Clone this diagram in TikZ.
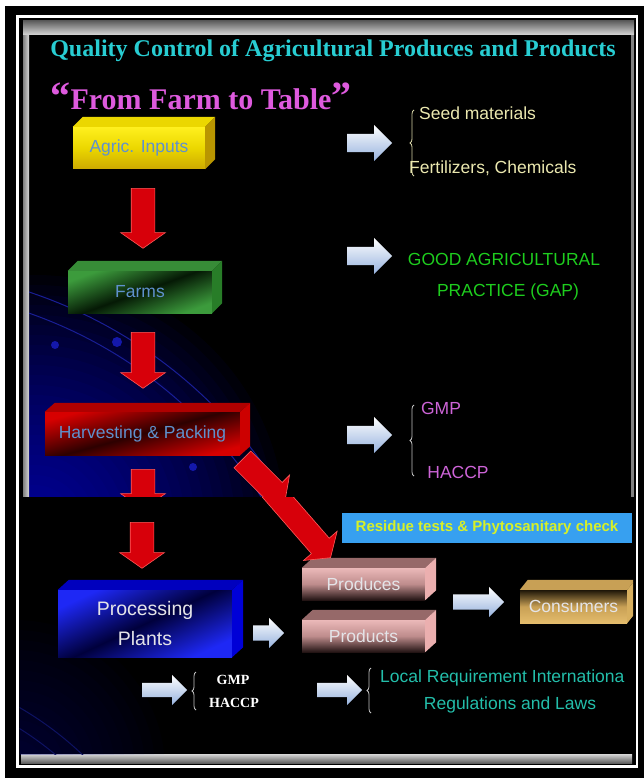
\documentclass[tikz,border=0pt]{standalone}
\usepackage{fontspec}
\setmainfont{Liberation Sans}
\newfontfamily\slideserif{Liberation Serif}
\usetikzlibrary{shapes.arrows,decorations.pathreplacing,calc}

\definecolor{titlecyan}{RGB}{40,205,210}
\definecolor{slogancol}{RGB}{222,90,222}
\definecolor{steeltxt}{RGB}{95,145,205}
\definecolor{seedtxt}{RGB}{235,232,175}
\definecolor{gaptxt}{RGB}{30,205,30}
\definecolor{gmptxt}{RGB}{205,100,215}
\definecolor{localtxt}{RGB}{35,190,170}
\definecolor{resblue}{RGB}{55,160,240}
\definecolor{restxt}{RGB}{215,240,40}
\definecolor{arrowred}{RGB}{215,0,10}
\definecolor{arrowredline}{RGB}{255,90,90}
\definecolor{arrowpale}{RGB}{150,178,222}
\definecolor{lighttxt}{RGB}{228,228,232}
\definecolor{bracegray}{RGB}{195,195,195}
\definecolor{barhi}{RGB}{215,215,215}
\definecolor{barlo}{RGB}{95,95,95}
\definecolor{glowblue}{RGB}{20,20,230}
\definecolor{arcblue}{RGB}{25,30,150}
\definecolor{navydim}{RGB}{20,25,140}
% box colours
\definecolor{yelA}{RGB}{255,240,30}
\definecolor{yelB}{RGB}{205,170,0}
\definecolor{yelTop}{RGB}{235,215,0}
\definecolor{yelSide}{RGB}{185,150,0}
\definecolor{grnA}{RGB}{60,155,60}
\definecolor{grnM}{RGB}{5,25,5}
\definecolor{grnTop}{RGB}{55,140,55}
\definecolor{grnSide}{RGB}{40,125,40}
\definecolor{redA}{RGB}{215,0,0}
\definecolor{redM}{RGB}{45,0,0}
\definecolor{redTop}{RGB}{175,0,0}
\definecolor{redSide}{RGB}{205,0,0}
\definecolor{bluA}{RGB}{30,40,245}
\definecolor{bluM}{RGB}{0,0,60}
\definecolor{bluTop}{RGB}{0,0,190}
\definecolor{bluSide}{RGB}{0,0,215}
\definecolor{pnkA}{RGB}{235,185,185}
\definecolor{pnkM}{RGB}{190,140,140}
\definecolor{pnkB}{RGB}{35,20,20}
\definecolor{pnkTop}{RGB}{150,105,105}
\definecolor{pnkSide}{RGB}{235,175,175}
\definecolor{gldA}{RGB}{30,22,8}
\definecolor{gldB}{RGB}{228,188,108}
\definecolor{gldTop}{RGB}{200,160,85}
\definecolor{gldSide}{RGB}{215,175,95}

\newcommand{\boxfaces}[5]{%
  \path[fill=#4] (#1.north west) -- ++(#2,-#3) -- ($(#1.north east)+(#2,-#3)$) -- (#1.north east) -- cycle;
  \path[fill=#5] (#1.north east) -- ++(#2,-#3) -- ($(#1.south east)+(#2,-#3)$) -- (#1.south east) -- cycle;
}

\begin{document}
\begin{tikzpicture}[x=1pt,y=-1pt,
  box/.style={rectangle, inner sep=0pt, align=center, font=\fontsize{17.5}{20}\selectfont},
  palearrow/.style={single arrow, inner sep=0pt, single arrow head extend=#1, anchor=tail,
    top color=white, bottom color=arrowpale, draw=none},
  redarrow/.style={single arrow, inner sep=0pt, single arrow head extend=10.5pt,
    single arrow tip angle=110, anchor=tail, fill=arrowred, draw=arrowredline, line width=0.6pt},
  rtxt/.style={inner sep=0pt, font=\fontsize{17.5}{20}\selectfont},
  bracestyle/.style={decorate, decoration={brace, amplitude=4pt}, line width=0.8pt}
]
\useasboundingbox (0,0) rectangle (644,778);
% frame
\fill[white] (0,0) rectangle (644,778);
\fill[black] (5,6) rectangle (644,778);
\draw[white, line width=2.8pt] (17.5,16.5) rectangle (637,766.5);

% ---------- top slide ----------
\shade[left color=barlo!80!white, right color=barhi] (23,21) rectangle (29,497);
\fill[gray] (631,21) rectangle (634,497);
\shade[top color=barlo, bottom color=barhi] (23,21) rectangle (634,35);

\begin{scope}
  \clip (29,35) rectangle (631,497);
  \foreach \rr in {250,240,...,10} { \fill[glowblue, opacity=0.045] (35,525) circle (\rr); }
  \draw[arcblue, line width=1pt] (-120,740) circle (452);
  \draw[arcblue, line width=1pt] (-120,740) circle (472);
  \fill[arcblue!80!blue] (55,345) circle (4);
  \fill[arcblue!80!blue] (117,342) circle (5);
  \fill[arcblue!80!blue] (193,467) circle (4);
\end{scope}

\node[font=\slideserif\bfseries\fontsize{24}{28}\selectfont, text=titlecyan, anchor=base] (title) at (333,57)
  {Quality Control of Agricultural Produces and Products};
\node[font=\slideserif\bfseries\fontsize{30}{34}\selectfont, text=slogancol, anchor=base] (slogan) at (201,110)
  {{\fontsize{40}{40}\selectfont “}From Farm to Table{\fontsize{40}{40}\selectfont ”}};

% boxes
\node[box, minimum width=132, minimum height=42, text=steeltxt,
      top color=yelA, bottom color=yelB, middle color=yelTop] (agric) at (139,148) {Agric. Inputs};
\boxfaces{agric}{10}{10}{yelTop}{yelSide}

\node[box, minimum width=144, minimum height=42, text=steeltxt,
      top color=grnA, bottom color=grnA, middle color=grnM, shading angle=20] (farms) at (140,292) {Farms};
\boxfaces{farms}{10}{10}{grnTop}{grnSide}

\node[box, minimum width=195, minimum height=43, text=steeltxt,
      top color=redA, bottom color=redA, middle color=redM, shading angle=15] (harvest) at (142.5,433.5) {Harvesting \& Packing};
\boxfaces{harvest}{10}{9}{redTop}{redSide}

% red arrows (top slide)
\node[redarrow, rotate=-90, minimum height=60] (r1) at (143,188) {\rule{0pt}{23pt}};
\node[redarrow, rotate=-90, minimum height=56] (r2) at (143,332) {\rule{0pt}{23pt}};
\begin{scope}
  \clip (29,35) rectangle (631,497);
  \node[redarrow, rotate=-90, minimum height=40] (r3) at (143,469) {\rule{0pt}{23pt}};
  \node[redarrow, rotate=-45, minimum height=60] (rd1) at ($(harvest.south east)+(2,4)$) {\rule{0pt}{23pt}};
\end{scope}

% pale arrows (top slide)
\node[palearrow=9pt, minimum height=45] (la1) at (347,143) {\rule{0pt}{18pt}};
\node[palearrow=9pt, minimum height=45] (la2) at (347,256) {\rule{0pt}{18pt}};
\node[palearrow=9pt, minimum height=45] (la3) at (347,435) {\rule{0pt}{18pt}};

% right texts
\draw[bracestyle, draw=seedtxt!80!gray] (414,176) -- (414,110);
\node[rtxt, text=seedtxt, anchor=west] (seed) at (419,113) {Seed materials};
\node[rtxt, text=seedtxt, anchor=west] (fert) at (409,168) {Fertilizers, Chemicals};

\node[rtxt, text=gaptxt] (gap1) at (504,259) {GOOD AGRICULTURAL};
\node[rtxt, text=gaptxt] (gap2) at (508,292) {PRACTICE (GAP)};

\draw[bracestyle, draw=bracegray] (414,476) -- (414,405);
\node[rtxt, text=gmptxt] (gmp1) at (441,408) {GMP};
\node[rtxt, text=gmptxt] (haccp1) at (458,472) {HACCP};

% ---------- bottom slide ----------
\fill[black] (19.5,497) rectangle (635.5,765);
\shade[top color=barhi, bottom color=barlo] (21,754) rectangle (632,763);
\begin{scope}
  \clip (19.5,497) rectangle (632,754);
  \foreach \rr in {150,140,...,10} { \fill[navydim, opacity=0.03] (15,770) circle (\rr); }
  \draw[navydim!70!black, line width=1pt] (-150,1000) circle (320);
  \draw[navydim!70!black, line width=1pt] (-150,1000) circle (338);
\end{scope}

\node[box, minimum width=290, minimum height=30, text=restxt, fill=resblue,
      font=\bfseries\fontsize{15}{18}\selectfont] (residue) at (487,528) {Residue tests \& Phytosanitary check};

\node[box, minimum width=123, minimum height=32, text=lighttxt,
      top color=pnkA, bottom color=pnkB, middle color=pnkM] (produces) at (363.5,584) {Produces};
\boxfaces{produces}{11}{10}{pnkTop}{pnkSide}

\node[box, minimum width=123, minimum height=32, text=lighttxt,
      top color=pnkA, bottom color=pnkB, middle color=pnkM] (products) at (363.5,636) {Products};
\boxfaces{products}{11}{10}{pnkTop}{pnkSide}

\begin{scope}
  \clip (19.5,497) rectangle (633,765);
  \node[box, minimum width=107, minimum height=33, text=lighttxt,
        top color=gldA, bottom color=gldB, middle color=gldTop] (consumers) at (573.5,606.5) {Consumers};
  \boxfaces{consumers}{8}{10}{gldTop}{gldSide}
\end{scope}

\node[box, minimum width=174, minimum height=67, text=lighttxt,
      font=\fontsize{19.5}{30}\selectfont,
      top color=bluA, bottom color=bluA, middle color=bluM, shading angle=25] (processing) at (145,623.5) {Processing\\Plants};
\boxfaces{processing}{11}{10}{bluTop}{bluSide}

\begin{scope}
  \clip (19.5,497) rectangle (635.5,765);
  \node[redarrow, rotate=-90, minimum height=46] (r4) at (142,522) {\rule{0pt}{23pt}};
  \node[redarrow, rotate=-49, minimum height=92] (rd2) at (270,488) {\rule{0pt}{23pt}};
\end{scope}

\node[palearrow=7.5pt, minimum height=31] (la4) at (253,633) {\rule{0pt}{15pt}};
\node[palearrow=7.5pt, minimum height=51] (la5) at (453,602) {\rule{0pt}{15pt}};
\node[palearrow=8pt, minimum height=45] (la6) at (142,690) {\rule{0pt}{14pt}};
\node[palearrow=8pt, minimum height=45] (la7) at (317,690) {\rule{0pt}{14pt}};

\draw[bracestyle, draw=bracegray] (196,710) -- (196,672);
\node[font=\slideserif\bfseries\fontsize{14}{16}\selectfont, text=white] (gmp2) at (233,680) {GMP};
\node[font=\slideserif\bfseries\fontsize{14}{16}\selectfont, text=white] (haccp2) at (234,703) {HACCP};

\draw[bracestyle, draw=bracegray] (371,713) -- (371,668);
\begin{scope}
  \clip (19.5,497) rectangle (633,765);
  \node[rtxt, text=localtxt, anchor=west] (local) at (380,678) {Local Requirement Internationa};
\end{scope}
\node[rtxt, text=localtxt] (laws) at (510,705) {Regulations and Laws};
\end{tikzpicture}
\end{document}
